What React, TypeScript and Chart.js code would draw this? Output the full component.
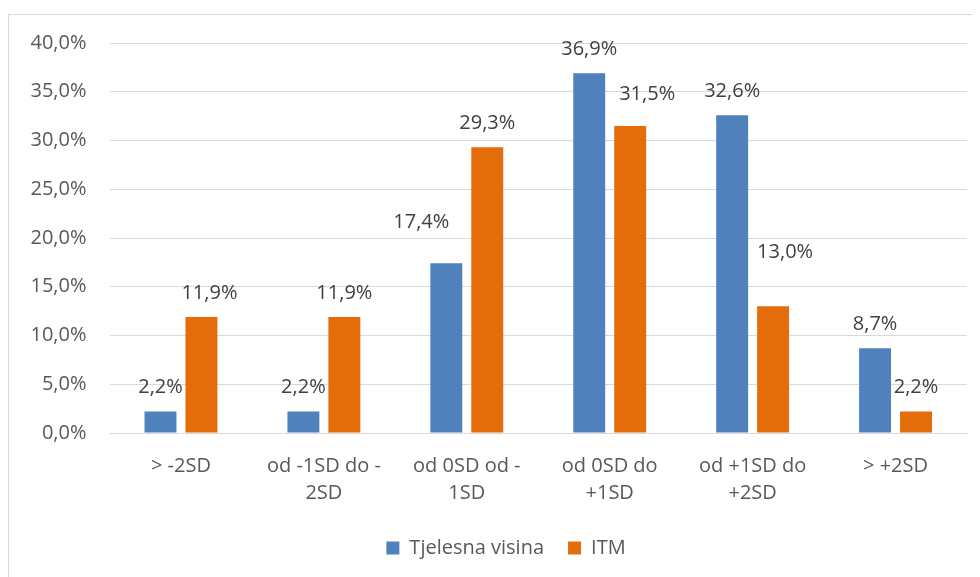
import React, { useEffect, useRef } from "react";
import { Chart, registerables } from "chart.js";

Chart.register(...registerables);

const categories: string[][] = [
  ["> -2SD"],
  ["od -1SD do -", "2SD"],
  ["od 0SD od -", "1SD"],
  ["od 0SD do", "+1SD"],
  ["od +1SD do", "+2SD"],
  ["> +2SD"],
];
const seriesNames = ["Tjelesna visina", "ITM"];
const visina = [2.2, 2.2, 17.4, 36.9, 32.6, 8.7];
const itm = [11.9, 11.9, 29.3, 31.5, 13.0, 2.2];
const yTicks = [0, 5, 10, 15, 20, 25, 30, 35, 40];

const FONT = "'Open Sans', 'Liberation Sans', sans-serif";
const fmt = (v: number) => v.toFixed(1).replace(".", ",") + "%";

// manual label nudges (as moved in the original)
const labelNudge: number[][][] = [
  [[0, 0], [0, 0], [-25, -17], [0, 0], [0, 0], [0, 0]],
  [[8, 0], [0, 0], [0, 0], [17, -8], [12, -30], [0, 0]],
];

const labelPlugin = {
  id: "valueLabels",
  afterLayout(chart: any) {
    if (chart.legend) {
      chart.legend.left += 18;
      chart.legend.right += 18;
    }
  },
  afterDatasetsDraw(chart: any) {
    const ctx = chart.ctx;
    ctx.save();
    ctx.font = `20px ${FONT}`;
    ctx.fillStyle = "#404040";
    ctx.textAlign = "center";
    ctx.textBaseline = "middle";
    chart.data.datasets.forEach((ds: any, di: number) => {
      const meta = chart.getDatasetMeta(di);
      meta.data.forEach((el: any, i: number) => {
        const n = labelNudge[di][i];
        ctx.fillText(fmt(ds.data[i]), el.x + n[0], el.y - 24 + n[1]);
      });
    });
    ctx.restore();
  },
};

export default function App() {
  const ref = useRef<HTMLCanvasElement>(null);
  useEffect(() => {
    const chart = new Chart(ref.current!, {
      type: "bar",
      data: {
        labels: categories,
        datasets: [
          {
            label: seriesNames[0],
            data: visina,
            backgroundColor: "#4f81bd",
            categoryPercentage: 0.573,
            barPercentage: 0.78,
          },
          {
            label: seriesNames[1],
            data: itm,
            backgroundColor: "#e46c0a",
            categoryPercentage: 0.573,
            barPercentage: 0.78,
          },
        ],
      },
      options: {
        animation: false,
        responsive: false,
        maintainAspectRatio: false,
        layout: { padding: { top: 28, right: 13, bottom: 9, left: 0 } },
        plugins: {
          legend: {
            position: "bottom",
            labels: {
              font: { family: FONT, size: 20 },
              color: "#595959",
              boxWidth: 13,
              boxHeight: 13,
              padding: 24,
            },
          },
          tooltip: { enabled: false },
        },
        scales: {
          x: {
            grid: { display: false, drawTicks: false },
            border: { display: true, color: "#d9d9d9" },
            ticks: {
              font: { family: FONT, size: 20, lineHeight: 1.35 },
              color: "#595959",
              padding: 20,
              maxRotation: 0,
              autoSkip: false,
            },
            afterFit: (s: any) => {
              s.height = 81;
            },
          },
          y: {
            min: 0,
            max: 40,
            afterBuildTicks: (s: any) => {
              s.ticks = yTicks.map((v) => ({ value: v }));
            },
            grid: { color: "#d9d9d9", drawTicks: false },
            border: { display: false },
            ticks: {
              font: { family: FONT, size: 20 },
              color: "#595959",
              padding: 23,
              callback: (v: any) => fmt(Number(v)),
            },
            afterFit: (s: any) => {
              s.width = 100.5;
              s.paddingTop = 0;
              s.paddingBottom = 0;
            },
          },
        },
      },
      plugins: [labelPlugin],
    });
    return () => chart.destroy();
  }, []);
  return (
    <div
      style={{
        marginTop: 6,
        borderLeft: "1px solid #d9d9d9",
        borderTop: "1px solid #d9d9d9",
        width: 971,
        height: 562,
        overflow: "hidden",
        background: "#fff",
      }}
    >
      <canvas ref={ref} width={971} height={562} style={{ display: "block" }} />
    </div>
  );
}
